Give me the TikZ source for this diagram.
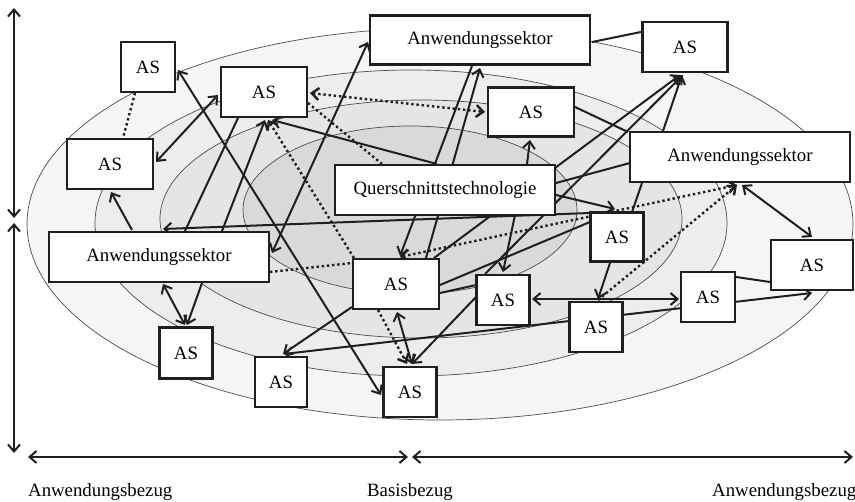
\documentclass[tikz,border=0pt]{standalone}
\usepackage{fontspec}
\setmainfont{Liberation Serif}
\usetikzlibrary{arrows.meta,calc}
\pgfdeclarelayer{bg}
\pgfdeclarelayer{edges}
\pgfsetlayers{bg,edges,main}
\begin{document}
\begin{tikzpicture}[x=1pt,y=-1pt,
  >={Straight Barb[length=7pt,width=12pt]},
  ring/.style={draw=black!70, line width=0.7pt},
  box/.style={draw=black!88, line width=2.6pt, fill=white, inner sep=0pt,
    font=\fontsize{18.8}{22}\selectfont},
  link/.style={draw=black!88, line width=2pt},
  dots/.style={dash pattern=on 2.4pt off 2.8pt, line width=2.4pt},
  axis/.style={draw=black!88, line width=2pt, <->},
  lbl/.style={inner sep=0pt, font=\fontsize{18.8}{22}\selectfont}
]
\useasboundingbox (0,0) rectangle (855,502);

% shaded rings around the core
\begin{pgfonlayer}{bg}
  \fill[white] (0,0) rectangle (855,502);
  \draw[ring, fill=black!4]  (440,224) ellipse [x radius=413, y radius=196];
  \draw[ring, fill=black!7]  (411,223) ellipse [x radius=316, y radius=153];
  \draw[ring, fill=black!10] (421,219) ellipse [x radius=261, y radius=119];
  \draw[ring, fill=black!15] (410,210) ellipse [x radius=167, y radius=84];
\end{pgfonlayer}

% boxes
\node[box, minimum width=54, minimum height=50] (asA) at (148,67) {AS};
\node[box, minimum width=86, minimum height=50] (asB) at (264,92) {AS};
\node[box, minimum width=86, minimum height=50] (asC) at (110,164) {AS};
\node[box, minimum width=220, minimum height=49] (anwT) at (480,40) {Anwendungssektor};
\node[box, minimum width=85, minimum height=50] (asD) at (685,47) {AS};
\node[box, minimum width=86, minimum height=49] (asE) at (531,112) {AS};
\node[box, minimum width=220, minimum height=50] (anwR) at (740,157) {Anwendungssektor};
\node[box, minimum width=220, minimum height=50] (qt) at (445,190) {Querschnittstechnologie};
\node[box, minimum width=220, minimum height=50] (anwL) at (159,257) {Anwendungssektor};
\node[box, minimum width=53, minimum height=49] (asF) at (617,237) {AS};
\node[box, minimum width=82, minimum height=50] (asR) at (812,265) {AS};
\node[box, minimum width=86, minimum height=50] (asG) at (396,284) {AS};
\node[box, minimum width=53, minimum height=50] (asH) at (503,300) {AS};
\node[box, minimum width=54, minimum height=50] (asI) at (708,297) {AS};
\node[box, minimum width=53, minimum height=50] (asJ) at (596,327) {AS};
\node[box, minimum width=53, minimum height=51] (asK) at (186,353) {AS};
\node[box, minimum width=52, minimum height=50] (asL) at (281,382) {AS};
\node[box, minimum width=53, minimum height=50] (asM) at (410,392) {AS};

% links between the boxes
\begin{pgfonlayer}{edges}
  % dotted links
  \draw[link,dots] ($(asA)+(-13,26)$) -- ($(asC)+(13,-26)$);
  \draw[link,dots,->] ($(asG)+(-42,-26)$) -- ($(asB)+(4,28)$);
  \draw[link,dots,<->] ($(asB)+(46,1)$) -- ($(asE)+(-46,0)$);
  \draw[link,dots] ($(asB)+(44,11)$) -- ($(qt)+(-63,-26)$);
  \draw[link,dots] ($(anwL)+(111,15)$) -- ($(asG)+(-44,-21)$);
  \draw[link,dots,->] ($(asG)+(-18,26)$) -- ($(asM)+(-3,-28)$);
  \draw[link,dots,->] ($(asJ)+(2,-27)$) -- ($(anwR)+(-3,28)$);
  \draw[link,dots,<->] ($(asG)+(4,-27)$) -- ($(anwR)+(-3,28)$);
  % solid links
  \draw[link,<->] ($(asB)+(-46,3)$) -- ($(asC)+(46,-2)$);
  \draw[link,->] ($(anwL)+(-27,-27)$) -- ($(asC)+(1,28)$);
  \draw[link,<->] ($(asA)+(30,3)$) -- ($(asM)+(-29,3)$);
  \draw[link] ($(anwL)+(26,-26)$) -- ($(asB)+(-26,26)$);
  \draw[link,->] ($(anwL)+(63,-26)$) -- ($(asB)+(1,28)$);
  \draw[link,->] ($(qt)+(-8,-26)$) -- ($(asB)+(8,28)$);
  \draw[link,->] ($(asF)+(-27,-24)$) -- ($(anwL)+(4,-28)$);
  \draw[link,<->] ($(anwL)+(113,-4)$) -- ($(anwT)+(-112,2)$);
  \draw[link,<->] ($(anwL)+(4,27)$) -- ($(asK)+(-1,-28)$);
  \draw[link,->] ($(anwL)+(43,26)$) -- ($(asK)+(1,-28)$);
  \draw[link,->] ($(asG)+(-44,23)$) -- ($(asL)+(2,-28)$);
  \draw[link,<->] ($(asL)+(3,-28)$) -- ($(asR)+(0,28)$);
  \draw[link,<->] ($(asH)+(29,-1)$) -- ($(asI)+(-29,2)$);
  \draw[link,->] ($(asF)+(-7,26)$) -- ($(asJ)+(2,-28)$);
  \draw[link,->] ($(anwT)+(-8,26)$) -- ($(asG)+(4,-28)$);
  \draw[link,->] ($(asG)+(30,-26)$) -- ($(anwT)+(0,28)$);
  \draw[link,->] ($(qt)+(82,-26)$) -- ($(asE)+(-1,28)$);
  \draw[link] ($(asE)+(44,-5)$) -- ($(anwR)+(-112,-25)$);
  \draw[link] ($(anwT)+(112,2)$) -- ($(asD)+(-44,-15)$);
  \draw[link,->] ($(asG)+(38,-26)$) -- ($(asD)+(-5,28)$);
  \draw[link,->] ($(asH)+(-18,-26)$) -- ($(asD)+(-2,28)$);
  \draw[link,->] ($(qt)+(70,25)$) -- ($(asH)+(0,-28)$);
  \draw[link] ($(qt)+(111,-7)$) -- ($(anwR)+(-110,6)$);
  \draw[link,->] ($(qt)+(111,5)$) -- ($(asF)+(-2,-28)$);
  \draw[link] ($(asG)+(44,1)$) -- ($(asF)+(-27,-15)$);
  \draw[link] ($(asG)+(44,9)$) -- ($(asH)+(-27,-15)$);
  \draw[link,->] ($(asH)+(-27,-3)$) -- ($(asM)+(2,-28)$);
  \draw[link,<->] ($(asG)+(1,28)$) -- ($(asM)+(2,-28)$);
  \draw[link] ($(anwR)+(-98,26)$) -- ($(asF)+(15,-25)$);
  \draw[link,->] ($(anwR)+(-77,-26)$) -- ($(asD)+(-3,28)$);
  \draw[link] ($(asI)+(28,-20)$) -- ($(asR)+(-42,17)$);
  \draw[link,<->] ($(anwR)+(2,28)$) -- ($(asR)+(0,-28)$);
\end{pgfonlayer}

% axes
\coordinate (vA) at (14,8);
\coordinate (vB) at (14,218);
\coordinate (vC) at (14,223);
\coordinate (vD) at (14,453);
\coordinate (hA) at (28,457);
\coordinate (hB) at (408,457);
\coordinate (hC) at (412,457);
\coordinate (hD) at (853,457);
\draw[axis] (vA) -- (vB);
\draw[axis] (vC) -- (vD);
\draw[axis] (hA) -- (hB);
\draw[axis] (hC) -- (hD);

\node[lbl, anchor=base west] (lblL) at (28,497) {Anwendungsbezug};
\node[lbl, anchor=base] (lblM) at (410,497) {Basisbezug};
\node[lbl, anchor=base west] (lblR) at (712,497) {Anwendungsbezug};
\end{tikzpicture}
\end{document}
